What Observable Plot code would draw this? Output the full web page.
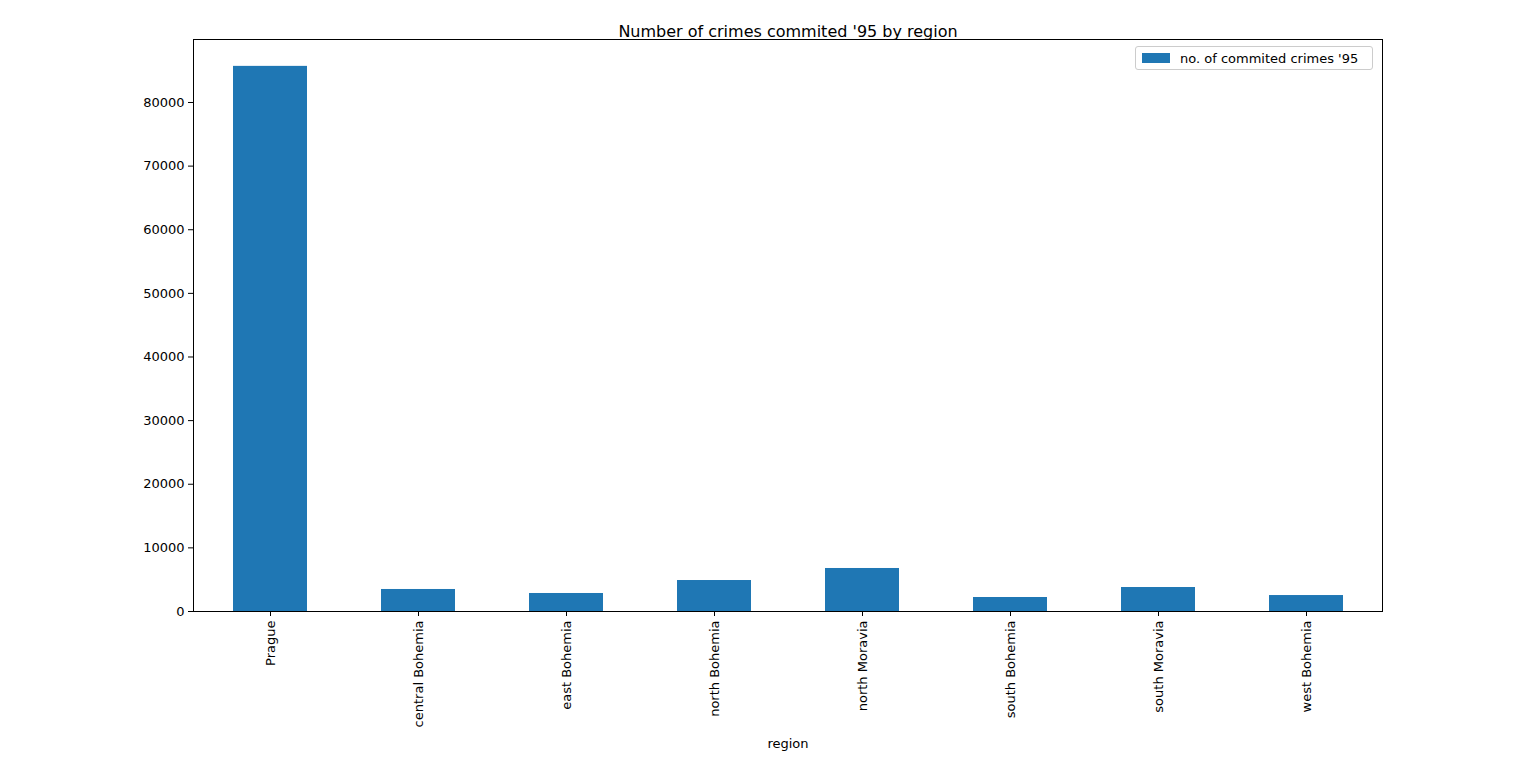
<!DOCTYPE html>
<html>
<head>
<meta charset="utf-8">
<script src="https://cdn.jsdelivr.net/npm/d3@7"></script>
<script src="https://cdn.jsdelivr.net/npm/@observablehq/plot@0.6"></script>
<style>
  body { margin: 0; background: white; font-family: "DejaVu Sans", sans-serif; }
  #wrap { position: relative; width: 1536px; height: 762px; }
  #legend {
    position: absolute; left: 1135px; top: 46px; height: 24px; width: 238px;
    border: 1px solid #cccccc; border-radius: 3px; background: rgba(255,255,255,0.8);
    font-size: 13px; display: flex; align-items: center; box-sizing: border-box;
  }
  #legend span.sw { display: inline-block; width: 28px; height: 10px; background: #1f77b4; margin: 0 10px 0 6px; }
</style>
</head>
<body>
<div id="wrap">
  <div id="legend"><span class="sw"></span>no. of commited crimes '95</div>
</div>
<script>
const regions = ["Prague", "central Bohemia", "east Bohemia", "north Bohemia",
  "north Moravia", "south Bohemia", "south Moravia", "west Bohemia"];
const crimes95 = [85677, 3460, 2830, 4870, 6760, 2200, 3770, 2510];

const rows = regions.map((r, i) => ({ region: r, crimes: crimes95[i] }));

const chart = Plot.plot({
  width: 1536,
  height: 762,
  marginTop: 39,
  marginLeft: 193,
  marginRight: 154,
  marginBottom: 151,
  style: { fontFamily: "DejaVu Sans, sans-serif", fontSize: "13px", color: "black", background: "white" },
  x: { domain: regions, paddingInner: 0.5, paddingOuter: 0.25, label: null, tickRotate: -90, tickSize: 5 },
  y: { domain: [0, 89900], ticks: d3.range(0, 90000, 10000), tickFormat: d => String(d), label: null, tickSize: 5 },
  marks: [
    Plot.barY(rows, { x: "region", y: "crimes", fill: "#1f77b4" }),
    Plot.frame({ stroke: "black" }),
    Plot.text(["Number of crimes commited '95 by region"], { frameAnchor: "top", dy: -14, fontSize: 16, fill: "black" }),
    Plot.text(["region"], { frameAnchor: "bottom", dy: 136, fontSize: 13, fill: "black" })
  ]
});
document.getElementById("wrap").prepend(chart);
</script>
</body>
</html>
